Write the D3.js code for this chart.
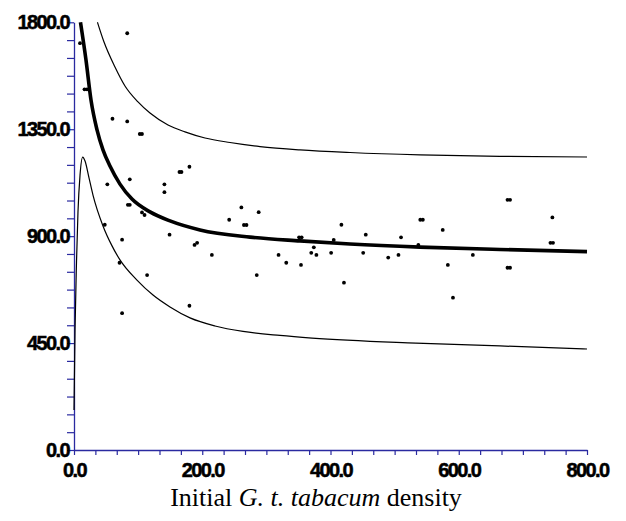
<!DOCTYPE html>
<html>
<head>
<meta charset="utf-8">
<script src="https://cdn.jsdelivr.net/npm/d3@7"></script>
<style>
  html, body { margin: 0; padding: 0; background: #fff; }
  svg { display: block; }
</style>
</head>
<body>
<svg id="chart" width="626" height="521"></svg>
<script>
// ---------------- DATA ----------------
const obsX = [9.4, 83, 16.4, 20.3, 60, 83, 102.6, 106, 164.5, 167.6, 180, 52, 87, 141, 141,
  84, 87, 106, 110, 48, 75, 149, 188, 192, 215, 71, 114, 75, 180, 242, 261, 265, 269, 288,
  285, 319, 331, 351, 355, 354, 374, 370, 378, 401, 405, 417, 421, 451, 455, 490, 506, 510,
  537, 540, 544, 575, 583, 591, 622, 676, 680, 676, 680, 746, 743, 747];
const obsY = [1712, 1754, 1518, 1518, 1394, 1383, 1330, 1330, 1170, 1170, 1192, 1118, 1139, 1118, 1085,
  1032, 1032, 1000, 989, 948, 885, 906, 863, 872, 821, 788, 736, 576, 607, 969, 1021, 947, 947, 1001,
  736, 821, 788, 895, 895, 779, 853, 830, 821, 830, 884, 948, 704, 830, 906, 810, 821, 895,
  863, 969, 969, 926, 779, 641, 821, 1053, 1053, 767, 767, 979, 872, 872];

// fitted mean curve (thick)
const meanX = [10.1, 18.7, 26.5, 35.9, 45.2, 56.1, 71.7, 90.4, 118.5, 149.7, 196.5, 274.5, 352.4, 430.4, 539.6, 664.3, 800];
const meanY = [1800, 1641, 1473, 1347, 1263, 1195, 1119, 1056, 1002, 964, 926, 896, 880, 867, 854, 844, 835];

// upper band (thin)
const upperX = [36.6, 46.8, 63.9, 79.5, 99.8, 118.5, 146.6, 173.1, 204.3, 243.3, 290.1, 352.4, 430.4, 539.6, 664.3, 800];
const upperY = [1800, 1717, 1612, 1532, 1465, 1418, 1368, 1339, 1313, 1294, 1277, 1263, 1252, 1242, 1236, 1233];

// lower band (thin)
const lowerX = [0, 1.6, 3.9, 6.2, 9.4, 13.6, 17.2, 23.4, 29.6, 45.2, 59.3, 71.7, 98.2, 123.2, 149.7, 180.9, 219.9, 263.6, 321.2, 371.2, 533.3, 664.3, 800];
const lowerY = [168, 505, 791, 1002, 1157, 1233, 1216, 1145, 1073, 943, 859, 800, 715, 652, 602, 556, 522, 499, 482, 471, 450, 438, 425];

const xMajor = [0, 200, 400, 600, 800];
const yMajor = [0, 450, 900, 1350, 1800];
const xTitleParts = [["Initial ", "normal"], ["G. t. tabacum", "italic"], [" density", "normal"]];

// ---------------- DRAWING ----------------
const svg = d3.select("#chart");
const axisColor = "#2a2aa0";

const x = d3.scaleLinear().domain([0, 800]).range([74, 587]);
const y = d3.scaleLinear().domain([0, 1800]).range([450, 22.3]);

const xMinor = d3.range(0, 800.001, 800 / 24);
const yMinor = d3.range(0, 1800.001, 75);

// minor tick axes
const gx = svg.append("g").attr("transform", `translate(0,${y(0)})`)
  .call(d3.axisBottom(x).tickValues(xMinor).tickSize(5).tickSizeOuter(0).tickFormat(""));
const gy = svg.append("g").attr("transform", `translate(${x(0)},0)`)
  .call(d3.axisLeft(y).tickValues(yMinor).tickSize(7).tickSizeOuter(0).tickFormat(""));
[gx, gy].forEach(g => {
  g.selectAll("path.domain").attr("stroke", axisColor).attr("stroke-width", 1.3);
  g.selectAll(".tick line").attr("stroke", axisColor).attr("stroke-width", 1.2);
});

// label axes
const lx = svg.append("g").attr("transform", `translate(0,${y(0)})`)
  .call(d3.axisBottom(x).tickValues(xMajor).tickSize(0).tickPadding(13).tickFormat(d3.format(".1f")));
const ly = svg.append("g").attr("transform", `translate(${x(0)},0)`)
  .call(d3.axisLeft(y).tickValues(yMajor).tickSize(0).tickPadding(5).tickFormat(d3.format(".1f")));
[lx, ly].forEach(g => {
  g.select("path.domain").remove();
  g.attr("font-size", null).attr("font-family", null);
  g.selectAll("text")
    .attr("font-family", "'Liberation Sans', Arial, sans-serif")
    .attr("font-weight", "bold")
    .attr("font-size", 20)
    .attr("letter-spacing", "-1.6px")
    .attr("fill", "#000")
    .attr("stroke", "#000").attr("stroke-width", 0.5);
});

// curves
const line = d3.line().x(d => x(d[0])).y(d => y(d[1])).curve(d3.curveMonotoneX);
const zip = (a, b) => a.map((v, i) => [v, b[i]]);

svg.append("path").datum(zip(upperX, upperY)).attr("d", line)
  .attr("fill", "none").attr("stroke", "#000").attr("stroke-width", 1.2);
svg.append("path").datum(zip(lowerX, lowerY)).attr("d", line)
  .attr("fill", "none").attr("stroke", "#000").attr("stroke-width", 1.2);
svg.append("path").datum(zip(meanX, meanY)).attr("d", line)
  .attr("fill", "none").attr("stroke", "#000").attr("stroke-width", 3.6);

// observations
svg.append("g").selectAll("circle").data(zip(obsX, obsY)).join("circle")
  .attr("cx", d => x(d[0])).attr("cy", d => y(d[1])).attr("r", 1.9).attr("fill", "#000");

// x title
const t = svg.append("text").attr("x", 316).attr("y", 506).attr("text-anchor", "middle")
  .attr("font-family", "'Liberation Serif', 'Times New Roman', serif").attr("font-size", 26).attr("fill", "#000");
xTitleParts.forEach(p => t.append("tspan").attr("font-style", p[1]).text(p[0]));
</script>
</body>
</html>
